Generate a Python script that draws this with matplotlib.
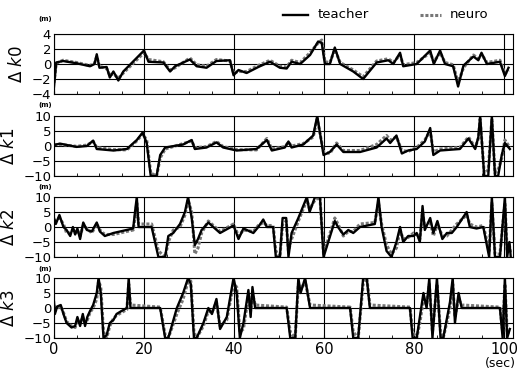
import numpy as np
import matplotlib
matplotlib.use('Agg')
from matplotlib import pyplot as plt
from matplotlib.ticker import MultipleLocator

# time (sec) / value (m) pairs, one list per panel
k0_t = [0, 0.5, 2, 5, 8, 9, 9.5, 10.1, 11.7, 12.4, 13.2, 14.3, 15.4, 20, 21, 24.3, 25.8, 26.9,
        30.2, 31.7, 33.9, 36.1, 39.1, 39.9, 41, 42.8, 45.4, 48, 50.2, 51.7, 52.8, 54.7, 56.9,
        58.7, 59.5, 60.2, 61.3, 62.4, 63.6, 66.5, 68.7, 71.7, 74.3, 75.4, 76.9, 77.6, 80.6,
        83.6, 84.4, 85.8, 86.9, 88.7, 89.8, 91, 93.2, 94.3, 95, 96.2, 99.1, 100.2, 101]
k0_teacher = [-3, 0.2, 0.4, 0.1, -0.3, 0, 1.3, -0.5, -0.4, -1.8, -1.0, -2.2, -1.0, 1.8, 0.3, 0.2,
              -1.0, -0.3, 0.6, -0.3, -0.5, 0.4, 0.5, -1.5, -0.8, -1.2, -0.4, 0.3, -0.5, -0.6,
              0.3, 0.0, 1.2, 3.0, 2.8, 0, 0, 2.2, 0, -1.0, -2.0, 0.2, 0.5, 0.0, 1.5, -0.3, 0,
              1.8, 0, 1.8, 0, -0.3, -3.0, -0.2, 1.0, 0.5, 1.5, 0, 0.3, -1.6, -0.5]
k0_neuro = [-2.5, 0.1, 0.5, 0.2, -0.2, 0.1, 1.0, -0.3, -0.6, -1.5, -1.3, -1.9, -1.2, 1.5, 0.6, 0.3,
            -0.8, -0.5, 0.8, -0.1, -0.3, 0.6, 0.4, -1.2, -1.0, -1.0, -0.2, 0.5, -0.3, -0.4,
            0.5, 0.2, 1.5, 2.8, 3.2, 0.3, 0.2, 1.9, 0.2, -0.8, -1.7, 0.4, 0.7, 0.2, 1.2, -0.1, 0.2,
            1.5, 0.3, 1.5, 0.2, -0.1, -2.5, -0.5, 1.2, 0.7, 1.3, 0.2, 0.5, -1.3, -0.8]

k1_t = [0, 1.3, 5, 7.3, 8.7, 9.5, 13.2, 16.2, 18.4, 19.7, 20.6, 21.5, 22.8, 23.6, 24.7, 28.7,
        30.6, 31.3, 33.9, 36.1, 37.6, 40.6, 45, 47.3, 48.4, 51.3, 52.1, 52.8, 55.4, 57.6, 58.5,
        59.9, 61.3, 62.8, 64.3, 68, 71.7, 73.9, 74.7, 76.1, 77.3, 78.7, 80.6, 82.4, 83.6, 84.3,
        85.8, 90.2, 92.1, 93.6, 94.3, 94.7, 95.6, 96.5, 97.3, 98, 98.7, 99.5, 100.2, 101.3]
k1_teacher = [0.3, 0.8, -0.3, 0, 1.8, -1, -1.5, -1.0, 2.0, 4.5, 1.0, -10, -10, -3, -0.5, 0.5,
              2.0, -1.0, -0.5, 1.2, -0.5, -1.5, -1.0, 2.0, -1.5, -0.5, 1.5, -0.5, 0.5, 3.5, 10,
              -3, -2, 0.5, -2.0, -2.0, -0.5, 2.5, 1.0, 3.5, -2.5, -1.5, -1.0, 1.5, 6.0, -3.0,
              -1.5, -1.0, 2.5, -1, 3, 10, -10, -10, 10, -10, -10, -3, 1, -1]
k1_neuro = [0.5, 0.5, -0.1, 0.3, 1.5, -0.5, -1.2, -1.3, 1.7, 4.0, 2.0, -9, -10, -4, -1.0, 0.8,
            1.7, -0.6, -0.2, 1.5, -0.2, -1.2, -1.3, 2.5, -1.0, -0.2, 1.2, 0.0, 0.8, 3.0, 9,
            -2, -2.5, 1.0, -1.5, -1.5, 0.5, 3.5, 2.0, 3.0, -1.5, -1.8, -0.5, 2.0, 5.0, -2.0,
            -1.0, -0.5, 3.0, -0.5, 2.5, 9, -9, -8, 9, -9, -8, -4, 2, -0.5]

k2_t = [0, 0.4, 1.2, 2.1, 2.8, 3.6, 4.2, 4.7, 5.2, 5.8, 6.5, 7.3, 8.4, 9.5, 10.2, 11.3, 13.2,
        17.6, 18, 18.4, 18.8, 21.7, 23.2, 24.7, 25.4, 26.5, 28, 29.1, 29.8, 30.6, 31.3, 32,
        32.8, 34.3, 35.4, 36.9, 39.9, 41, 42.1, 44.3, 45.4, 46.5, 47.3, 48.7, 49.3, 50.2, 50.8,
        51.6, 52.1, 52.8, 54.3, 56.2, 56.8, 58, 59.1, 59.9, 62.4, 63.1, 64.3, 65.4, 66.5, 68,
        71.3, 72.1, 72.8, 73.9, 75, 76.1, 76.9, 77.6, 78.7, 79.9, 80.6, 81.3, 81.9, 82.4, 83.6,
        84.3, 85.2, 86.3, 87.3, 88.4, 89.5, 91.7, 92.4, 93.9, 95.4, 96.7, 97.3, 98, 99.1,
        100.2, 100.7, 101.2, 101.5]
k2_teacher = [3, 1, 4, 0, -1, -3, 0, -2.5, -0.5, -4, 1.5, -1, -1.5, 1.5, -1.5, -3, -2, -0.5, 5,
              10, 0, 0, -10, -10, -3, -2, 1, 5, 10, 3, -6, -4, -1, 1.5, 0, -2, 0.5, -4, -0.5, -2,
              0, 2.5, 0, 0, -10, -10, 3, 3, -10, -2, 3, 10, 5, 10, 10, -10, 2, 0, -2.5, -1, -2, 0,
              1, 10, 0, -8, -10, -5, 0, -5, -3, -3, -2, -5, 7, -1, 3, -2, 2, -4, -2, -2, 0, 5, 0,
              -0.5, 0, -10, 10, -10, -10, 10, -10, -5, -10]
k2_neuro = [2, 2, 3, 1, -2, -2, -1, -2, -1, -3, 0.5, -0.5, -2, 1, -1, -2.5, -2.5, -1, 3,
            8, 1, 1, -8, -10, -5, -1, 0, 4, 9, 5, -9, -7, -2, 2, 0.5, -1.5, 1, -3, -1, -1.5,
            0.5, 1.5, 0.5, 0.5, -8, -10, 1, 2, -8, -4, 2, 9, 6, 9, 10, -9, 3, 1, -3, -1.5, -1.5, 1,
            1.5, 8, 1, -6, -9, -7, -1, -4, -3.5, -2, -2.5, -4, 5, 0, 2, -3, 1, -3, -3, -1, 1, 4, 1,
            0, 0.5, -8, 8, -9, -9, 8, -8, -6, -9]

k3_t = [0, 0.2, 0.7, 1.5, 2.1, 2.8, 3.9, 4.7, 5.2, 5.8, 6.4, 6.9, 7.4, 8, 8.7, 9.5, 9.9, 10.4,
        11, 11.7, 12.4, 13.2, 13.9, 15, 16.2, 16.6, 17, 23.6, 24.7, 25.4, 27.3, 28.7, 29.8,
        30.4, 31.1, 31.7, 33.2, 34.3, 35.1, 36.1, 36.9, 38.4, 39.9, 40.6, 41.3, 42.1, 43.2,
        43.7, 44.1, 44.7, 51.7, 52.5, 53.6, 54.3, 54.8, 55.8, 56.9, 65.8, 66.5, 67.6, 68.7,
        69.5, 70.2, 79.1, 79.7, 80.6, 81.3, 82.1, 82.8, 83.4, 84.1, 85.1, 85.9, 86.5, 88,
        88.6, 89.1, 89.9, 90.6, 99.1, 99.7, 100.2, 100.7, 101.3]
k3_teacher = [2, -2, 0.5, 1, -2, -5, -6.5, -6, -3, -6, -2, -6, -3, -1, 1, 5, 10, 5, -10, -9,
              -5, -4, -2, -1, 0, 10, 0, 0, -10, -10, 0, 5, 10, 8, -10, -10, -5, 0, -2, 3, -7, -3,
              10, 5, -10, -5, 6, -3, 7, 0, 0, -10, -10, 10, 5, 10, 0, 0, -10, -10, 10, 10, 0, 0,
              -10, -10, -3, 5, 0, 10, -10, 10, -10, -10, 2, 10, -5, 5, 0, 0, -10, 10, -10, -7]
k3_neuro = [1, -1, 0, 0.5, -1.5, -4.5, -6, -6.5, -4, -5, -3, -5, -4, -1.5, 0, 3, 9, 7, -8, -10,
            -6, -3.5, -2.5, -1.5, -0.5, 8, 1, 0.3, -9, -10, -2, 3, 9, 9, -8, -10, -6, -1, -1.5, 2,
            -6, -4, 8, 7, -8, -7, 4, -1, 5, 1, 0.3, -8, -10, 8, 6, 9, 1, 0.3, -8, -10, 8, 10, 1,
            0.3, -8, -10, -5, 3, 1, 8, -8, 8, -8, -10, 0, 8, -3, 3, 1, 0.3, -8, 8, -8, -8]

labels = ['k0', 'k1', 'k2', 'k3']
limits = [4, 10, 10, 10]
steps = [2, 5, 5, 5]
panels = [(k0_t, k0_teacher, k0_neuro), (k1_t, k1_teacher, k1_neuro),
          (k2_t, k2_teacher, k2_neuro), (k3_t, k3_teacher, k3_neuro)]

W, H = 518.0, 373.0
fig = plt.figure(figsize=(5.18, 3.73), dpi=100)
tops = [34, 116, 197, 278]
m_pos = [19, 105, 187, 268.5]   # y of the "(m)" unit labels
for i, (t, teacher, neuro) in enumerate(panels):
    top = tops[i]
    ax = fig.add_axes([54 / W, 1 - (top + 60) / H, 459 / W, 60 / H])
    ax.plot(t, neuro, color='#777777', lw=2.2, linestyle=(0, (1, 0.6)))
    ax.plot(t, teacher, color='black', lw=1.7)
    lim = limits[i]
    ax.set_xlim(0, 102)
    ax.set_ylim(-lim, lim)
    ax.yaxis.set_major_locator(MultipleLocator(steps[i]))
    ax.set_xticks([0, 20, 40, 60, 80, 100])
    ax.xaxis.set_minor_locator(MultipleLocator(5))
    ax.grid(True, which='major', color='black', lw=0.8)
    ax.tick_params(axis='y', length=0, labelsize=9.5, pad=2)
    ax.tick_params(axis='x', which='both', direction='in', length=2.5, top=False)
    for sp in ax.spines.values():
        sp.set_linewidth(0.8)
    if i < 3:
        ax.tick_params(axis='x', labelbottom=False)
    else:
        ax.tick_params(axis='x', labelsize=10.5, pad=3)
    ax.set_ylabel(r'$\Delta$ $\mathit{%s}$' % labels[i], fontsize=12, labelpad=4)
    fig.text(45 / W, 1 - m_pos[i] / H, '(m)', fontsize=5, fontweight='bold', ha='center', va='center')

fig.text(516 / W, 1 - 364 / H, '(sec)', fontsize=9, ha='right', va='center')

# legend drawn by hand above the first panel
fig.lines.append(plt.Line2D([283 / W, 308 / W], [1 - 15 / H] * 2, color='black', lw=1.7, transform=fig.transFigure))
fig.text(318 / W, 1 - 15 / H, 'teacher', fontsize=9.5, va='center')
fig.lines.append(plt.Line2D([420 / W, 441 / W], [1 - 15 / H] * 2, color='#777777', lw=2.2,
                            linestyle=(0, (1, 0.6)), transform=fig.transFigure))
fig.text(450 / W, 1 - 15 / H, 'neuro', fontsize=9.5, va='center')

plt.savefig('out.png', dpi=100)
